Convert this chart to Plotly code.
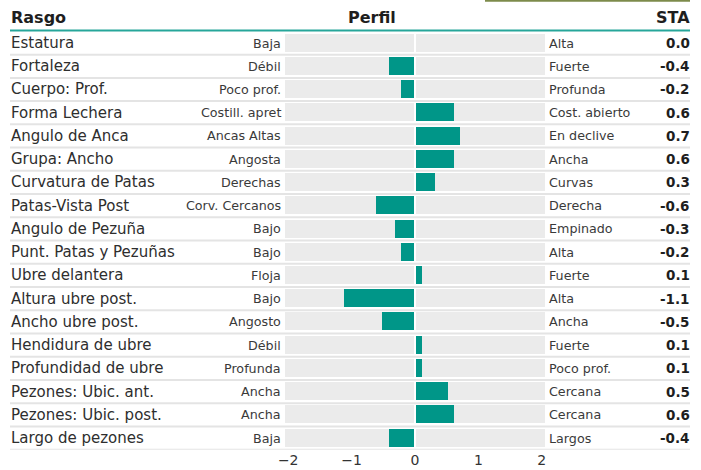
import plotly.graph_objects as go

traits = ["Estatura", "Fortaleza", "Cuerpo: Prof.", "Forma Lechera", "Angulo de Anca",
          "Grupa: Ancho", "Curvatura de Patas", "Patas-Vista Post", "Angulo de Pezuña",
          "Punt. Patas y Pezuñas", "Ubre delantera", "Altura ubre post.", "Ancho ubre post.",
          "Hendidura de ubre", "Profundidad de ubre", "Pezones: Ubic. ant.",
          "Pezones: Ubic. post.", "Largo de pezones"]
low_labels = ["Baja", "Débil", "Poco prof.", "Costill. apret", "Ancas Altas", "Angosta",
              "Derechas", "Corv. Cercanos", "Bajo", "Bajo", "Floja", "Bajo", "Angosto",
              "Débil", "Profunda", "Ancha", "Ancha", "Baja"]
high_labels = ["Alta", "Fuerte", "Profunda", "Cost. abierto", "En declive", "Ancha",
               "Curvas", "Derecha", "Empinado", "Alta", "Fuerte", "Alta", "Ancha",
               "Fuerte", "Poco prof.", "Cercana", "Cercana", "Largos"]
sta = [0.0, -0.4, -0.2, 0.6, 0.7, 0.6, 0.3, -0.6, -0.3, -0.2, 0.1, -1.1, -0.5,
       0.1, 0.1, 0.5, 0.6, -0.4]
tick_vals = [-2, -1, 0, 1, 2]
headers = ["Rasgo", "Perfil", "STA"]

W, H = 701, 470
FONT = "DejaVu Sans"
TEAL = "#009688"
GREY = "#ebebeb"
TXT = "#2e2e2e"
LIM = 2.05
GAP = 0.016

n = len(traits)
rows = list(range(n))

def px(x):
    return x / W

def py(y):
    return 1 - y / H

top_px, bot_px = 31.4, 449.7

fig = go.Figure()
fig.add_trace(go.Bar(y=rows, x=[LIM - GAP] * n, base=[-LIM] * n, orientation="h",
                     marker=dict(color=GREY, line=dict(width=0)), width=0.775,
                     hoverinfo="skip", showlegend=False))
fig.add_trace(go.Bar(y=rows, x=[LIM - GAP] * n, base=[GAP] * n, orientation="h",
                     marker=dict(color=GREY, line=dict(width=0)), width=0.775,
                     hoverinfo="skip", showlegend=False))
bases = [(-GAP + v) if v < 0 else GAP for v in sta]
lens = [abs(v) for v in sta]
fig.add_trace(go.Bar(y=rows, x=lens, base=bases, orientation="h",
                     marker=dict(color=TEAL, line=dict(width=0)), width=0.775,
                     customdata=sta, hovertemplate="%{customdata}<extra></extra>",
                     showlegend=False))

ann = []
for i in rows:
    ann.append(dict(text=traits[i], x=px(10), y=i, xref="paper", yref="y",
                    xanchor="left", yanchor="middle", showarrow=False, borderpad=0,
                    font=dict(size=15, color=TXT, family=FONT)))
    ann.append(dict(text=low_labels[i], x=px(282), y=i, xref="paper", yref="y",
                    xanchor="right", yanchor="middle", showarrow=False, borderpad=0,
                    font=dict(size=12.7, color="#3a3a3a", family=FONT)))
    ann.append(dict(text=high_labels[i], x=px(548), y=i, xref="paper", yref="y",
                    xanchor="left", yanchor="middle", showarrow=False, borderpad=0,
                    font=dict(size=12.7, color="#3a3a3a", family=FONT)))
    s = f"{sta[i]:.1f}"
    ann.append(dict(text=f"<b>{s}</b>", x=px(691), y=i, xref="paper", yref="y",
                    xanchor="right", yanchor="middle", showarrow=False, borderpad=0,
                    font=dict(size=13.5, color="#1e1e1e", family=FONT)))

ann.append(dict(text=f"<b>{headers[0]}</b>", x=px(10), y=py(17), xref="paper", yref="paper",
                xanchor="left", yanchor="middle", showarrow=False, borderpad=0,
                font=dict(size=16, color="#1e1e1e", family=FONT)))
ann.append(dict(text=f"<b>{headers[1]}</b>", x=px(372), y=py(17), xref="paper", yref="paper",
                xanchor="center", yanchor="middle", showarrow=False, borderpad=0,
                font=dict(size=16, color="#1e1e1e", family=FONT)))
ann.append(dict(text=f"<b>{headers[2]}</b>", x=px(691), y=py(17), xref="paper", yref="paper",
                xanchor="right", yanchor="middle", showarrow=False, borderpad=0,
                font=dict(size=16, color="#1e1e1e", family=FONT)))

shapes = []
for i in rows:
    shapes.append(dict(type="line", xref="paper", yref="y", x0=px(10), x1=px(690),
                       y0=i + 0.5, y1=i + 0.5, line=dict(color="#e4e4e4", width=2)))
shapes.append(dict(type="line", xref="paper", yref="paper", x0=px(10), x1=px(690),
                   y0=py(30.5), y1=py(30.5), line=dict(color="#26a69a", width=2)))
shapes.append(dict(type="line", xref="paper", yref="paper", x0=px(485), x1=px(690),
                   y0=py(0.8), y1=py(0.8), line=dict(color="#7d8b4b", width=2)))

fig.update_layout(
    width=W, height=H, margin=dict(l=0, r=0, t=0, b=0, pad=0, autoexpand=False),
    paper_bgcolor="white", plot_bgcolor="white",
    barmode="overlay", bargap=0,
    font=dict(family=FONT, color=TXT),
    annotations=ann, shapes=shapes,
    xaxis=dict(domain=[px(415 - LIM * 63.4), px(415 + LIM * 63.4)], range=[-LIM, LIM],
               tickvals=tick_vals, ticktext=[str(t).replace("-", "\u2212") for t in tick_vals],
               showgrid=False, zeroline=False, showline=False, ticks="", automargin=False,
               tickfont=dict(size=14, color="#333", family=FONT), fixedrange=True),
    yaxis=dict(domain=[py(bot_px), py(top_px)], range=[n - 0.5, -0.5],
               showticklabels=False, showgrid=False, zeroline=False, showline=False,
               ticks="", automargin=False, fixedrange=True),
)

fig.write_html("out.html", config={"displayModeBar": False, "responsive": False})
with open("out.html", encoding="utf-8") as f:
    html = f.read()
html = html.replace("<head>", "<head><style>html,body{margin:0;padding:0;overflow:hidden;}</style>", 1)
with open("out.html", "w", encoding="utf-8") as f:
    f.write(html)
